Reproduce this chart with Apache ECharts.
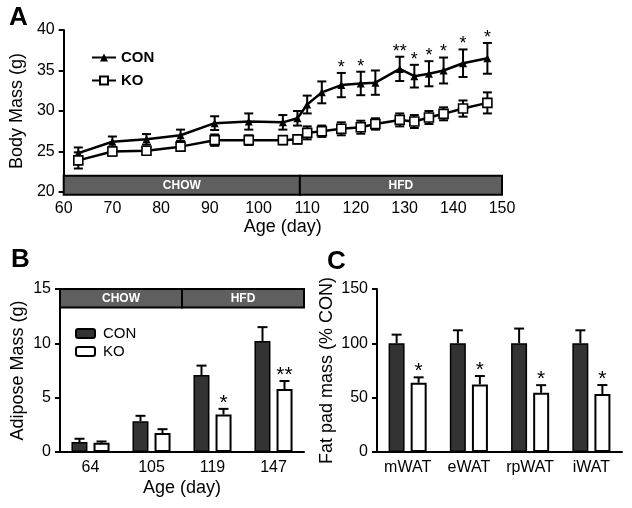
<!DOCTYPE html>
<html>
<head>
<meta charset="utf-8">
<script src="https://cdn.jsdelivr.net/npm/echarts@6/dist/echarts.min.js"></script>
<style>
html,body{margin:0;padding:0;background:#fff;}
#c{width:632px;height:508px;}
</style>
</head>
<body>
<div id="c"></div>
<script>
// ---------- Panel A data ----------
const ages = [63, 70, 77, 84, 91, 98, 105, 108, 110, 113, 117, 121, 124, 129, 132, 135, 138, 142, 147];
const conMass = [24.8, 26.2, 26.5, 27.0, 28.5, 28.7, 28.6, 29.1, 30.8, 32.3, 33.2, 33.4, 33.5, 35.2, 34.3, 34.6, 35.0, 35.9, 36.5];
const conMassErr = [0.7, 0.65, 0.65, 0.7, 0.85, 1.0, 0.9, 0.9, 1.1, 1.35, 1.5, 1.45, 1.5, 1.5, 1.4, 1.55, 1.6, 1.7, 1.9];
const koMass = [23.9, 25.0, 25.1, 25.6, 26.4, 26.4, 26.4, 26.5, 27.3, 27.5, 27.8, 28.0, 28.4, 28.9, 28.7, 29.2, 29.65, 30.3, 31.0];
const koMassErr = [1.0, 0.5, 0.45, 0.4, 0.7, 0.6, 0.5, 0.5, 0.8, 0.7, 0.8, 0.8, 0.7, 0.8, 0.8, 0.8, 0.8, 1.0, 1.3];
const massStars = ['', '', '', '', '', '', '', '', '', '', '*', '*', '', '**', '*', '*', '*', '*', '*'];
const ageTicksMin = 60, ageTicksMax = 150, ageTickStep = 10;
const massTicksMin = 20, massTicksMax = 40, massTickStep = 5;
const dietLabels = ['CHOW', 'HFD'];
const dietStart = [60, 108.5];
const dietEnd = [108.5, 150];

// ---------- Panel B data ----------
const adiposeAges = ['64', '105', '119', '147'];
const adiposeCon = [0.92, 2.83, 7.08, 10.22];
const adiposeConErr = [0.3, 0.5, 0.87, 1.27];
const adiposeKo = [0.85, 1.75, 3.45, 5.79];
const adiposeKoErr = [0.12, 0.35, 0.52, 0.74];
const adiposeKoStars = ['', '', '*', '**'];
const adiposeDietFirst = [0, 2];
const adiposeDietLast = [1, 3];

// ---------- Panel C data ----------
const depots = ['mWAT', 'eWAT', 'rpWAT', 'iWAT'];
const fatCon = [100, 100, 100, 100];
const fatConErr = [8, 12, 13.6, 12];
const fatKo = [63.7, 62.2, 54.5, 53.3];
const fatKoErr = [5, 7.7, 7, 8.3];
const fatKoStars = ['*', '*', '*', '*'];

const FONT = '"Liberation Sans", Arial, Helvetica, sans-serif';
const chart = echarts.init(document.getElementById('c'), null, {renderer: 'canvas'});

function errBars(offset, capHalf, both, stars, starSize) {
  return function (params, api) {
    const x = api.value(0), m = api.value(1), e = api.value(2);
    const c = api.coord([x, m]);
    const t = api.coord([x, m + e]);
    const b = api.coord([x, m - e]);
    const cx = c[0] + offset;
    const st = {stroke: '#000', lineWidth: 2};
    const ch = [
      {type: 'line', shape: {x1: cx, y1: t[1], x2: cx, y2: both ? b[1] : c[1]}, style: st},
      {type: 'line', shape: {x1: cx - capHalf, y1: t[1], x2: cx + capHalf, y2: t[1]}, style: st}
    ];
    if (both) ch.push({type: 'line', shape: {x1: cx - capHalf, y1: b[1], x2: cx + capHalf, y2: b[1]}, style: st});
    const s = stars ? stars[params.dataIndex] : '';
    if (s) {
      ch.push({type: 'text', style: {text: s, x: cx, y: t[1] + starSize * 0.22, align: 'center', verticalAlign: 'bottom',
        fontSize: starSize, fontFamily: FONT, fill: '#000'}});
    }
    return {type: 'group', children: ch};
  };
}

const axisLineStyle = {show: true, lineStyle: {color: '#000', width: 2}};
const yTick = {show: true, length: 5, lineStyle: {color: '#000', width: 2}};
const labelStyle = {color: '#000', fontSize: 16, fontFamily: FONT};
const nameStyle = {color: '#000', fontSize: 18, fontFamily: FONT};

const option = {
  animation: false,
  backgroundColor: '#fff',
  graphic: [
    {type: 'text', left: 9, top: 5, style: {text: 'A', fontSize: 26, fontWeight: 'bold', fontFamily: FONT, fill: '#000'}},
    {type: 'text', left: 11, top: 247, style: {text: 'B', fontSize: 26, fontWeight: 'bold', fontFamily: FONT, fill: '#000'}},
    {type: 'text', left: 327, top: 249, style: {text: 'C', fontSize: 26, fontWeight: 'bold', fontFamily: FONT, fill: '#000'}}
  ],
  legend: [
    {
      data: ['CON', 'KO'], orient: 'vertical', left: 86, top: 45, itemWidth: 24, itemHeight: 10, itemGap: 8,
      textStyle: {color: '#000', fontSize: 15, fontWeight: 'bold', fontFamily: FONT}
    },
    {
      data: ['CON_B', 'KO_B'], orient: 'vertical', left: 70, top: 321, itemWidth: 19, itemHeight: 9, itemGap: 3,
      formatter: n => n.replace('_B', ''),
      textStyle: {color: '#000', fontSize: 15, fontFamily: FONT, padding: [0, 0, 0, 3]}
    }
  ],
  grid: [
    {left: 63, top: 30, width: 439, height: 162},
    {left: 60, top: 289, width: 244, height: 163},
    {left: 377, top: 289, width: 245, height: 163}
  ],
  xAxis: [
    {gridIndex: 0, type: 'value', min: ageTicksMin, max: ageTicksMax, interval: ageTickStep,
      axisLine: axisLineStyle, axisTick: {show: false}, splitLine: {show: false},
      axisLabel: Object.assign({margin: 9}, labelStyle),
      name: 'Age (day)', nameLocation: 'middle', nameGap: 21, nameTextStyle: nameStyle},
    {gridIndex: 1, type: 'category', data: adiposeAges,
      axisLine: axisLineStyle, axisTick: {show: false}, splitLine: {show: false},
      axisLabel: Object.assign({margin: 8, interval: 0}, labelStyle),
      name: 'Age (day)', nameLocation: 'middle', nameGap: 27, nameTextStyle: nameStyle},
    {gridIndex: 2, type: 'category', data: depots,
      axisLine: axisLineStyle, axisTick: {show: false}, splitLine: {show: false},
      axisLabel: Object.assign({margin: 8, interval: 0, hideOverlap: false}, labelStyle)}
  ],
  yAxis: [
    {gridIndex: 0, type: 'value', min: massTicksMin, max: massTicksMax, interval: massTickStep,
      axisLine: axisLineStyle, axisTick: yTick, splitLine: {show: false},
      axisLabel: Object.assign({margin: 9}, labelStyle),
      name: 'Body Mass (g)', nameLocation: 'middle', nameGap: 33, nameTextStyle: nameStyle},
    {gridIndex: 1, type: 'value', min: 0, max: 15, interval: 5,
      axisLine: axisLineStyle, axisTick: yTick, splitLine: {show: false},
      axisLabel: Object.assign({margin: 9}, labelStyle),
      name: 'Adipose Mass (g)', nameLocation: 'middle', nameGap: 33, nameTextStyle: nameStyle},
    {gridIndex: 2, type: 'value', min: 0, max: 150, interval: 50,
      axisLine: axisLineStyle, axisTick: yTick, splitLine: {show: false},
      axisLabel: Object.assign({margin: 9}, labelStyle),
      name: 'Fat pad mass (% CON)', nameLocation: 'middle', nameGap: 41, nameTextStyle: nameStyle}
  ],
  series: [
    // Panel A error bars
    {type: 'custom', xAxisIndex: 0, yAxisIndex: 0, z: 1,
      data: ages.map((a, i) => [a, conMass[i], conMassErr[i]]),
      renderItem: errBars(0, 4.5, true, massStars, 18)},
    {type: 'custom', xAxisIndex: 0, yAxisIndex: 0, z: 1,
      data: ages.map((a, i) => [a, koMass[i], koMassErr[i]]),
      renderItem: errBars(0, 4.5, true, null, 18)},
    {name: 'CON', type: 'line', xAxisIndex: 0, yAxisIndex: 0, z: 3,
      data: ages.map((a, i) => [a, conMass[i]]),
      symbol: 'triangle', symbolSize: 8,
      lineStyle: {color: '#000', width: 2.5}, itemStyle: {color: '#000'}},
    {name: 'KO', type: 'line', xAxisIndex: 0, yAxisIndex: 0, z: 3,
      data: ages.map((a, i) => [a, koMass[i]]),
      symbol: 'rect', symbolSize: 9,
      lineStyle: {color: '#000', width: 2.5}, itemStyle: {color: '#fff', borderColor: '#000', borderWidth: 1.6}},
    // Panel A diet band
    {type: 'custom', xAxisIndex: 0, yAxisIndex: 0, z: 5, clip: false,
      data: dietLabels.map((d, i) => [dietStart[i], dietEnd[i]]),
      renderItem: function (params, api) {
        const p0 = api.coord([api.value(0), 22]);
        const p1 = api.coord([api.value(1), 19.65]);
        return {type: 'group', children: [
          {type: 'rect', shape: {x: p0[0], y: p0[1], width: p1[0] - p0[0], height: p1[1] - p0[1]},
            style: {fill: '#5f5f5f', stroke: '#000', lineWidth: 2}},
          {type: 'text', style: {text: dietLabels[params.dataIndex], x: (p0[0] + p1[0]) / 2, y: (p0[1] + p1[1]) / 2,
            align: 'center', verticalAlign: 'middle', fontSize: 12, fontWeight: 'bold', fontFamily: FONT, fill: '#fff'}}
        ]};
      }},
    // Panel B bars
    {name: 'CON_B', type: 'bar', xAxisIndex: 1, yAxisIndex: 1, data: adiposeCon, barWidth: 16, barGap: '38%',
      itemStyle: {color: '#333', borderColor: '#000', borderWidth: 1.5}},
    {name: 'KO_B', type: 'bar', xAxisIndex: 1, yAxisIndex: 1, data: adiposeKo, barWidth: 16, barGap: '38%',
      itemStyle: {color: '#fff', borderColor: '#000', borderWidth: 2}},
    {type: 'custom', xAxisIndex: 1, yAxisIndex: 1, z: 4,
      data: adiposeCon.map((v, i) => [i, v, adiposeConErr[i]]),
      renderItem: errBars(-11, 5, false, null, 21)},
    {type: 'custom', xAxisIndex: 1, yAxisIndex: 1, z: 4,
      data: adiposeKo.map((v, i) => [i, v, adiposeKoErr[i]]),
      renderItem: errBars(11, 5, false, adiposeKoStars, 21)},
    {type: 'custom', xAxisIndex: 1, yAxisIndex: 1, z: 5, clip: false,
      data: dietLabels.map((d, i) => [adiposeDietFirst[i], adiposeDietLast[i]]),
      renderItem: function (params, api) {
        const w = api.size([1, 0])[0];
        const p0 = api.coord([api.value(0), 15]);
        const p1 = api.coord([api.value(1), 13.3]);
        const x0 = p0[0] - w / 2, x1 = p1[0] + w / 2;
        return {type: 'group', children: [
          {type: 'rect', shape: {x: x0, y: p0[1], width: x1 - x0, height: p1[1] - p0[1]},
            style: {fill: '#5f5f5f', stroke: '#000', lineWidth: 2}},
          {type: 'text', style: {text: dietLabels[params.dataIndex], x: (x0 + x1) / 2, y: (p0[1] + p1[1]) / 2,
            align: 'center', verticalAlign: 'middle', fontSize: 12, fontWeight: 'bold', fontFamily: FONT, fill: '#fff'}}
        ]};
      }},
    // Panel C bars
    {name: 'CON_C', type: 'bar', xAxisIndex: 2, yAxisIndex: 2, data: fatCon, barWidth: 16, barGap: '38%',
      itemStyle: {color: '#333', borderColor: '#000', borderWidth: 1.5}},
    {name: 'KO_C', type: 'bar', xAxisIndex: 2, yAxisIndex: 2, data: fatKo, barWidth: 16, barGap: '38%',
      itemStyle: {color: '#fff', borderColor: '#000', borderWidth: 2}},
    {type: 'custom', xAxisIndex: 2, yAxisIndex: 2, z: 4,
      data: fatCon.map((v, i) => [i, v, fatConErr[i]]),
      renderItem: errBars(-11, 5, false, null, 21)},
    {type: 'custom', xAxisIndex: 2, yAxisIndex: 2, z: 4,
      data: fatKo.map((v, i) => [i, v, fatKoErr[i]]),
      renderItem: errBars(11, 5, false, fatKoStars, 21)}
  ]
};
chart.setOption(option);
</script>
</body>
</html>
